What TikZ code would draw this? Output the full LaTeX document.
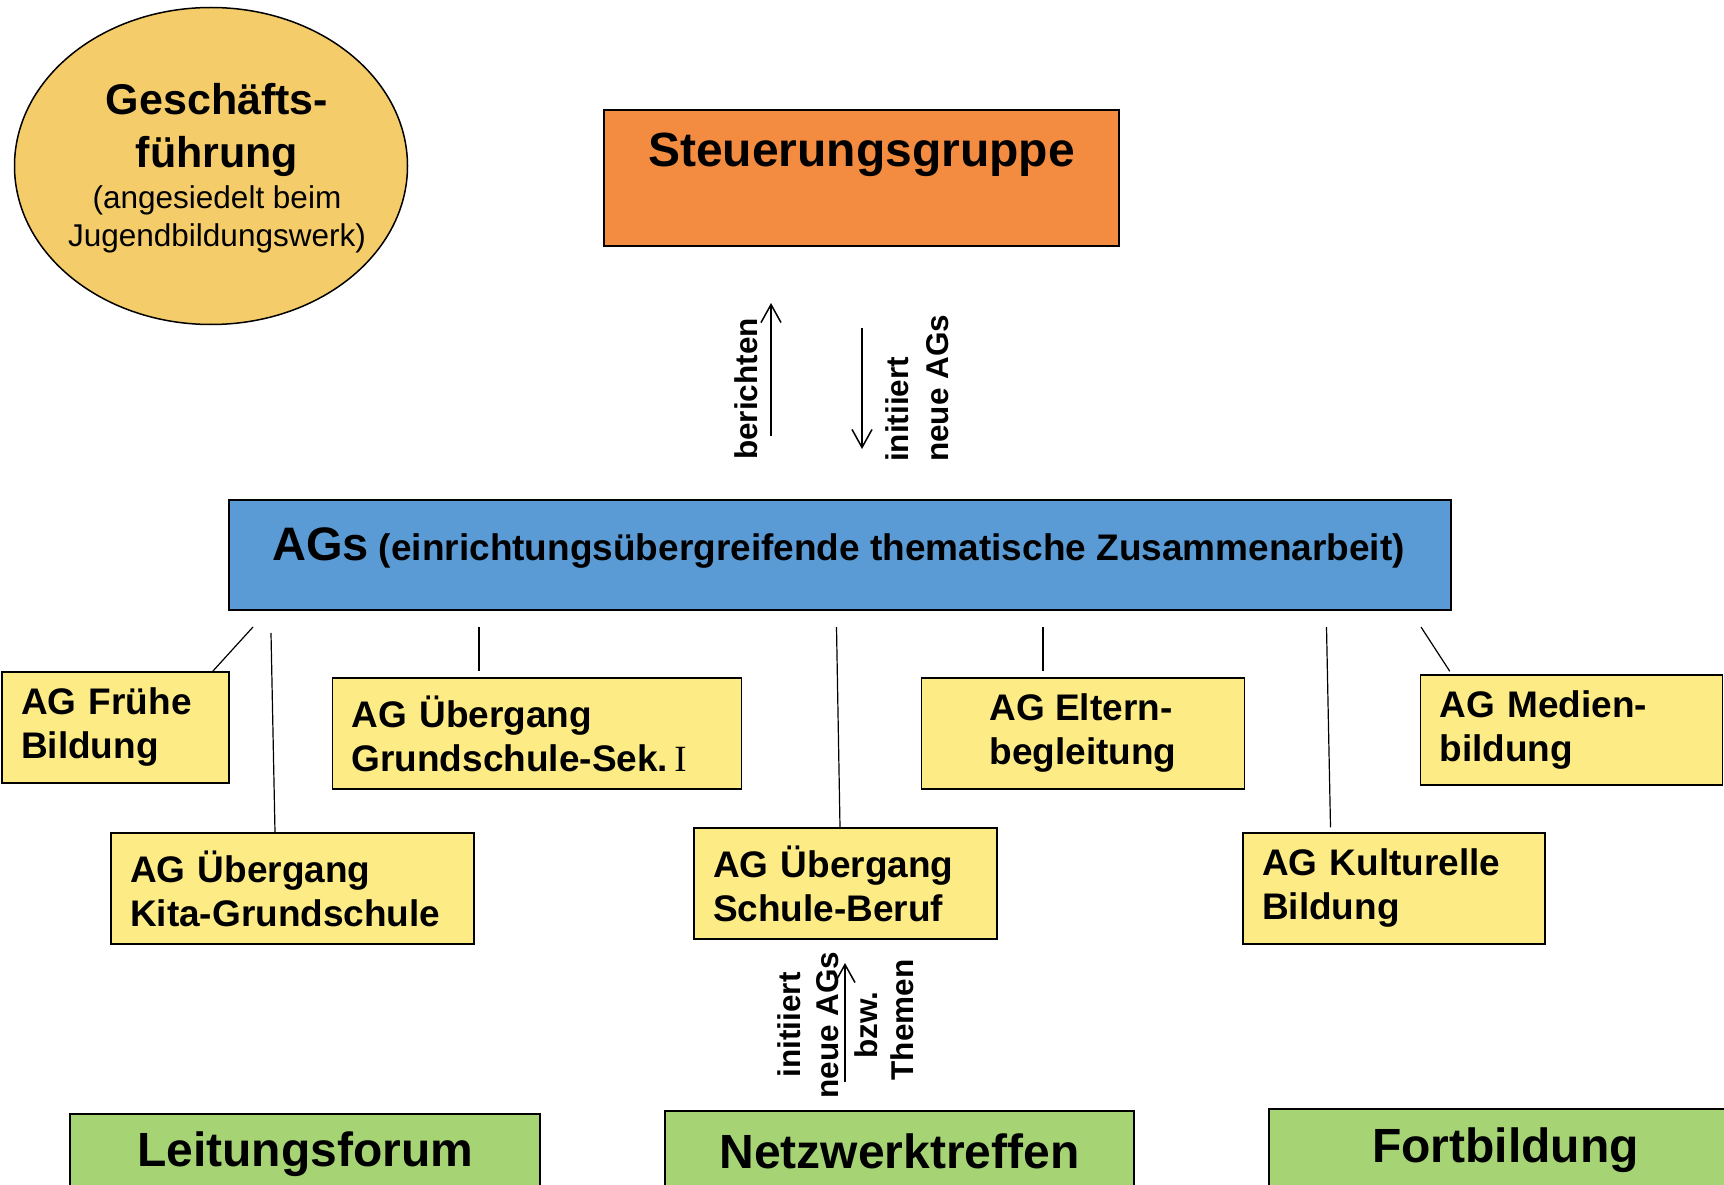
\documentclass[tikz,border=0pt]{standalone}
\usepackage{fontspec}
\setmainfont{Liberation Sans}
\newfontfamily\romanI{Liberation Serif}
\usetikzlibrary{arrows.meta,shapes.geometric}
\definecolor{gfgold}{RGB}{244,204,106}
\definecolor{steuorange}{RGB}{243,140,64}
\definecolor{agblue}{RGB}{91,155,213}
\definecolor{agyellow}{RGB}{253,236,134}
\definecolor{aggreen}{RGB}{166,212,117}
\newcommand{\gfbig}{\fontsize{43}{52}\selectfont\bfseries}
\newcommand{\gfsmall}{\fontsize{31.5}{38}\selectfont\mdseries}
\begin{document}
\begin{tikzpicture}[x=1pt,y=-1pt,
  agbox/.style={draw=black, fill=agyellow, line width=1.5pt, inner xsep=19pt, inner ysep=0pt, align=left, font=\fontsize{37}{44}\selectfont\bfseries},
  greenbox/.style={draw=black, fill=aggreen, line width=1.5pt, inner sep=0pt, font=\fontsize{48}{56}\selectfont\bfseries},
  conn/.style={line width=1.2pt},
  flow/.style={line width=1.5pt, -{Straight Barb[length=18pt,width=20pt]}},
  vlabel/.style={rotate=90, inner sep=0pt, font=\fontsize{31.5}{38}\selectfont\bfseries}
]
\useasboundingbox (0,0) rectangle (1724,1185);
\clip (0,0) rectangle (1724,1185);
\fill[white] (0,0) rectangle (1724,1185);

% Geschaeftsfuehrung
\node[draw=black, fill=gfgold, ellipse, line width=1.5pt, minimum width=393pt, minimum height=317pt, inner sep=0pt] (gf) at (211,166) {};
\node[align=center, inner sep=0pt, font=\gfsmall] (gftext) at (217,168) {\gfbig Geschäfts-\\[15pt] \gfbig führung\\[3pt] \gfsmall (angesiedelt beim\\ \gfsmall Jugendbildungswerk)};

% Steuerungsgruppe
\node[draw=black, fill=steuorange, line width=1.5pt, minimum width=515pt, minimum height=136pt, inner sep=0pt, text height=35pt, text depth=58pt, font=\fontsize{48}{56}\selectfont\bfseries] (steu) at (861.5,178) {Steuerungsgruppe};

% AGs
\node[draw=black, fill=agblue, line width=1.5pt, minimum width=1222pt, minimum height=110pt, inner sep=0pt, text height=36pt, text depth=26pt, font=\fontsize{37}{44}\selectfont\bfseries] (ags) at (840,555) {\hspace*{-3pt}{\fontsize{47}{56}\selectfont AGs} (einrichtungsübergreifende thematische Zusammenarbeit)};

% AG boxes
\node[agbox, text width=189pt, minimum height=111pt] (frueh) at (115.5,727.5) {AG Frühe\\Bildung};
\node[agbox, text width=325pt, minimum height=111pt] (kita) at (292.5,888.5) {AG Übergang\\Kita-Grundschule};
\node[agbox, text width=371pt, minimum height=111pt] (sek) at (537,733.5) {AG Übergang\\Grundschule-Sek.\,{\romanI\mdseries I}};
\node[agbox, text width=265pt, minimum height=111pt] (beruf) at (845.5,883.5) {AG Übergang\\Schule-Beruf};
\node[agbox, minimum width=323pt, minimum height=111pt] (eltern) at (1083,733.5) {AG Eltern-\\begleitung};
\node[agbox, text width=264pt, minimum height=111pt] (kultur) at (1394,888.5) {AG Kulturelle\\Bildung};
\node[agbox, text width=264pt, minimum height=110pt] (medien) at (1571.5,730) {AG Medien-\\bildung};

% bottom boxes
\node[greenbox, minimum width=470pt, minimum height=80pt] (leit) at (305,1154) {Leitungsforum};
\node[greenbox, minimum width=469pt, minimum height=80pt] (netz) at (899.5,1151) {Netzwerktreffen};
\node[greenbox, minimum width=473pt, minimum height=82pt] (fort) at (1505.5,1150) {Fortbildung};

% connectors from AGs to working groups
\coordinate (t1) at (253,627);
\coordinate (t2) at (271,633);
\coordinate (t3) at (479,627);
\coordinate (t4) at (836.5,627);
\coordinate (t5) at (1043,627);
\coordinate (t6) at (1326.5,627);
\coordinate (t7) at (1421,627);
\draw[conn] (t1) -- ([xshift=-17pt]frueh.north east);
\draw[conn] (t2) -- ([xshift=-17.5pt]kita.north);
\draw[conn] (t3) -- ([xshift=-58pt,yshift=6pt]sek.north);
\draw[conn] (t4) -- ([xshift=-5.5pt]beruf.north);
\draw[conn] (t5) -- ([xshift=-40pt,yshift=6pt]eltern.north);
\draw[conn] (t6) -- ([xshift=-63.5pt,yshift=5pt]kultur.north);
\draw[conn] (t7) -- ([xshift=30pt,yshift=3pt]medien.north west);

% arrows between Steuerungsgruppe and AGs
\coordinate (b1) at (771,436);
\coordinate (b2) at (771,303);
\draw[flow] (b1) -- (b2);
\coordinate (i1) at (862,328);
\coordinate (i2) at (862,449);
\draw[flow] (i1) -- (i2);
\node[vlabel, anchor=base] (lblber) at (757,389) {berichten};
\node[vlabel, anchor=base west] (lblini) at (908,462) {initiiert};
\node[vlabel, anchor=base west] (lblneu) at (948,462) {neue AGs};

% arrow from Netzwerktreffen upward
\coordinate (n1) at (845,1082);
\coordinate (n2) at (845,963);
\draw[flow] (n1) -- (n2);
\node[vlabel, anchor=base] (lblini2) at (800,1025) {initiiert};
\node[vlabel, anchor=base] (lblneu2) at (838,1025) {neue AGs};
\node[vlabel, anchor=base] (lblbzw) at (877,1025) {bzw.};
\node[vlabel, anchor=base] (lblthe) at (913,1020) {Themen};
\end{tikzpicture}
\end{document}
